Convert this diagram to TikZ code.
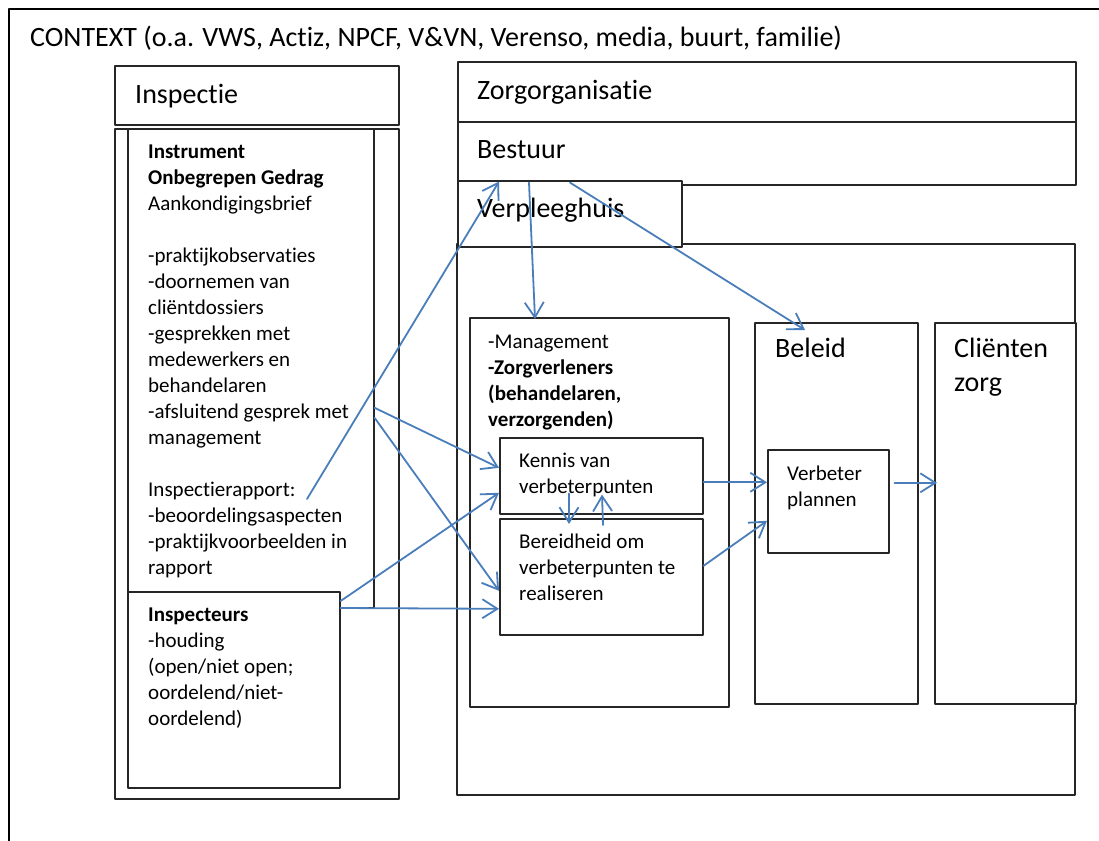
\documentclass[tikz,border=0pt]{standalone}
\usepackage{fontspec}
\setmainfont{Carlito}[Ligatures={NoCommon,NoRequired,NoContextual},Contextuals=NoAlternate]
\usepackage{tikz}
\usetikzlibrary{arrows.meta}
\definecolor{lnblue}{RGB}{74,126,187}
\newcommand{\bodyfnt}{\fontsize{21}{26}\selectfont}
\newcommand{\headfnt}{\fontsize{28}{34}\selectfont}
\tikzset{
  box/.style={draw=black!85,line width=1.6pt,fill=white,rectangle,inner sep=0pt,anchor=north west},
  txt/.style={inner sep=0pt,anchor=north west,align=left,font=\bodyfnt},
  head/.style={inner sep=0pt,anchor=north west,align=left,font=\headfnt},
  conn/.style={->,color=lnblue,line width=1.8pt}
}

\begin{document}
\begin{tikzpicture}[line cap=round,line join=round,>={Straight Barb[length=15pt,width=19pt]},x=1pt,y=-1pt]
  \useasboundingbox (0,0) rectangle (1099,840);
  \clip (0,0) rectangle (1099,840);
  % context frame
  \node (context) [box,draw=black,line width=2pt,minimum width=1110pt,minimum height=850pt] at (8,8) {};
  \node (contexttxt) [head] at (30,22.2) {\strut CONTEXT (o.a. VWS, Actiz, NPCF, V\&VN, Verenso, media, buurt, familie)};

  % inspectie
  \node (insphead) [box,minimum width=284pt,minimum height=59pt] at (114,65) {};
  \node (insptxt) [head] at (135,79.2) {\strut Inspectie};
  \node (inspbody) [box,minimum width=284pt,minimum height=670pt] at (114,128) {};
  \node (instr) [box,minimum width=246pt,minimum height=479pt] at (127,128) {};
  \node (instrtxt) [txt] at (148,139.8) {\strut\textbf{Instrument}\\
    \textbf{Onbegrepen Gedrag}\\
    Aankondigingsbrief\\[26pt]
    -praktijkobservaties\\
    -doornemen van\\
    cliëntdossiers\\
    -gesprekken met\\
    medewerkers en\\
    behandelaren\\
    -afsluitend gesprek met\\
    management\\[26pt]
    Inspectierapport:\\
    -beoordelingsaspecten\\
    -praktijkvoorbeelden in\\
    rapport};
  \node (inspecteurs) [box,minimum width=212pt,minimum height=196pt] at (127,591) {};
  \node (inspecteurstxt) [txt] at (148,602.8) {\strut\textbf{Inspecteurs}\\
    -houding\\
    (open/niet open;\\
    oordelend/niet-\\
    oordelend)};

  % zorgorganisatie
  \node (zorgorg) [box,minimum width=618pt,minimum height=60pt] at (457,61) {};
  \node (zorgorgtxt) [head] at (477,75.2) {\strut Zorgorganisatie};
  \node (bestuur) [box,minimum width=618pt,minimum height=63pt] at (457,121) {};
  \node (bestuurtxt) [head] at (477,134.2) {\strut Bestuur};
  \node (vplbody) [box,minimum width=618pt,minimum height=551pt] at (456,243) {};
  \node (vplhead) [box,minimum width=224pt,minimum height=66pt] at (457,180) {};
  \node (vpltxt) [head] at (477,193.2) {\strut Verpleeghuis};

  \node (mgmt) [box,minimum width=259pt,minimum height=389pt] at (469,317) {};
  \node (mgmttxt) [txt] at (488,329.8) {\strut -Management\\
    \textbf{-Zorgverleners}\\
    \textbf{(behandelaren,}\\
    \textbf{verzorgenden)}};
  \node (kennis) [box,minimum width=203pt,minimum height=76pt] at (499,437) {};
  \node (kennistxt) [txt] at (519,448.8) {\strut Kennis van\\verbeterpunten};
  \node (bereid) [box,minimum width=203pt,minimum height=116pt] at (499,518) {};
  \node (bereidtxt) [txt] at (519,529.8) {\strut Bereidheid om\\verbeterpunten te\\realiseren};

  \node (beleid) [box,minimum width=163pt,minimum height=381pt] at (754,322) {};
  \node (beleidtxt) [head] at (775,333.2) {\strut Beleid};
  \node (verbeter) [box,minimum width=121pt,minimum height=103pt] at (767,449) {};
  \node (verbetertxt) [txt] at (787,461.8) {\strut Verbeter\\plannen};
  \node (clienten) [box,minimum width=141pt,minimum height=381pt] at (934,322) {};
  \node (cliententxt) [head] at (954,333.2) {\strut Cliënten\\zorg};

  % connectors
  \coordinate (rapportend) at (307,499);
  \draw[conn] (rapportend) -- ([xshift=42pt,yshift=4pt]bestuur.south west);
  \draw[conn] ([xshift=72pt,yshift=3pt]bestuur.south west) -- ([xshift=66pt,yshift=-2pt]mgmt.north west);
  \draw[conn] ([xshift=113pt,yshift=3pt]bestuur.south west) -- ([xshift=51pt,yshift=-8pt]beleid.north west);
  \draw[conn] ([yshift=-39.5pt]instr.east) -- ([yshift=8pt]kennis.west);
  \draw[conn] ([yshift=-49.5pt]instr.east) -- ([yshift=-14pt]bereid.west);
  \draw[conn] ([yshift=-10pt]inspecteurs.north east) -- ([yshift=-17pt]kennis.west);
  \draw[conn] ([yshift=-17pt]inspecteurs.north east) -- ([yshift=-32pt]bereid.west);
  \draw[conn] ([xshift=70pt,yshift=21pt]kennis.south west) -- ([xshift=70pt,yshift=-6pt]bereid.north west);
  \draw[conn] ([xshift=104pt,yshift=-7pt]bereid.north west) -- ([xshift=103pt,yshift=20pt]kennis.south west);
  \draw[conn] ([yshift=-6.5pt]kennis.east) -- ([yshift=19pt]verbeter.west);
  \draw[conn] ([yshift=11pt]bereid.east) -- ([yshift=-19.5pt]verbeter.west);
  \draw[conn] ([xshift=5pt,yshift=18.5pt]verbeter.east) -- ([xshift=3pt,yshift=30.5pt]clienten.west);
\end{tikzpicture}
\end{document}
